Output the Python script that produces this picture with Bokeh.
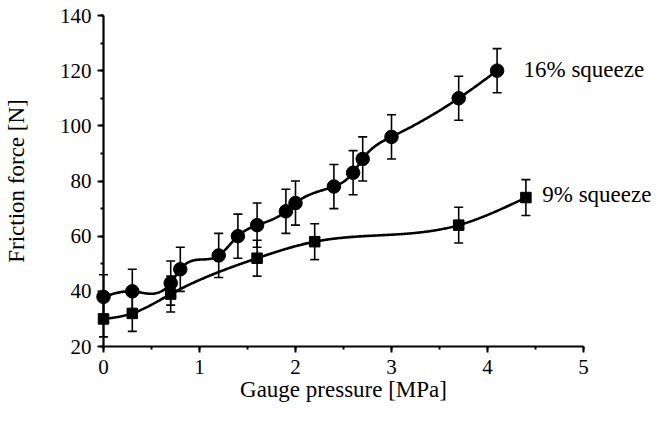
import numpy as np
from bokeh.plotting import figure
from bokeh.models import (ColumnDataSource, Whisker, TeeHead, Label,
                          SingleIntervalTicker, Range1d)
from bokeh.embed import file_html
from bokeh.resources import INLINE

# ---- data ----
p16_x = [0.0, 0.3, 0.7, 0.8, 1.2, 1.4, 1.6, 1.9, 2.0, 2.4, 2.6, 2.7, 3.0, 3.7, 4.1]
p16_y = [38, 40, 43, 48, 53, 60, 64, 69, 72, 78, 83, 88, 96, 110, 120]
p16_err = [8, 8, 8, 8, 8, 8, 8, 8, 8, 8, 8, 8, 8, 8, 8]

p9_x = [0.0, 0.3, 0.7, 1.6, 2.2, 3.7, 4.4]
p9_y = [30, 32, 39, 52, 58, 64, 74]
p9_err = [6.5, 6.5, 6.5, 6.5, 6.5, 6.5, 6.5]

label16 = "16% squeeze"
label9 = "9% squeeze"
x_title = "Gauge pressure [MPa]"
y_title = "Friction force [N]"

FONT = "Liberation Serif"

W, H = 657, 441
# frame placement of the axes box (pixels)
AX_L, AX_R, AX_T, AX_B = 103, 583, 15, 346
X0, X1, Y0, Y1 = 0, 5, 20, 140
sx = (AX_R - AX_L) / (X1 - X0)
sy = (AX_B - AX_T) / (Y1 - Y0)
xr = Range1d(X0 - AX_L / sx, X1 + (W - AX_R) / sx)
yr = Range1d(Y0 - (H - AX_B) / sy, Y1 + AX_T / sy)


def natural_spline(x, y, n=400):
    x = np.asarray(x, float)
    y = np.asarray(y, float)
    m = len(x)
    h = np.diff(x)
    A = np.zeros((m, m))
    r = np.zeros(m)
    A[0, 0] = 1.0
    A[-1, -1] = 1.0
    for i in range(1, m - 1):
        A[i, i - 1] = h[i - 1]
        A[i, i] = 2 * (h[i - 1] + h[i])
        A[i, i + 1] = h[i]
        r[i] = 3 * ((y[i + 1] - y[i]) / h[i] - (y[i] - y[i - 1]) / h[i - 1])
    c = np.linalg.solve(A, r)
    b = (y[1:] - y[:-1]) / h - h * (2 * c[:-1] + c[1:]) / 3
    d = (c[1:] - c[:-1]) / (3 * h)
    xs = np.linspace(x[0], x[-1], n)
    idx = np.clip(np.searchsorted(x, xs, side="right") - 1, 0, m - 2)
    dx = xs - x[idx]
    ys = y[idx] + b[idx] * dx + c[idx] * dx ** 2 + d[idx] * dx ** 3
    return xs, ys


p = figure(width=W, height=H, output_backend="svg", toolbar_location=None,
           x_range=xr, y_range=yr,
           min_border_left=0, min_border_right=0, min_border_top=0,
           min_border_bottom=0)
p.outline_line_color = None
p.xgrid.visible = False
p.ygrid.visible = False
p.background_fill_color = "white"
p.border_fill_color = "white"

p.xaxis.ticker = SingleIntervalTicker(interval=1, num_minor_ticks=2)
p.yaxis.ticker = SingleIntervalTicker(interval=20, num_minor_ticks=2)
p.xaxis.fixed_location = Y0
p.yaxis.fixed_location = X0
p.xaxis.bounds = (X0, X1)
p.yaxis.bounds = (Y0, Y1)
for ax in (p.xaxis, p.yaxis):
    ax.axis_line_width = 2.2
    ax.axis_line_color = "black"
    ax.major_tick_line_width = 2
    ax.minor_tick_line_width = 2
    ax.major_tick_line_color = "black"
    ax.minor_tick_line_color = "black"
    ax.major_tick_in = 0
    ax.major_tick_out = 6
    ax.minor_tick_in = 0
    ax.minor_tick_out = 3
    ax.major_label_text_font = FONT
    ax.major_label_text_font_size = "21px"
    ax.major_label_text_color = "black"
    ax.axis_label_text_font = FONT
    ax.axis_label_text_font_size = "23px"
    ax.axis_label_text_font_style = "normal"
    ax.axis_label_text_color = "black"

p.xaxis.axis_label = x_title
p.yaxis.axis_label = y_title
p.xaxis.major_label_standoff = 7
p.xaxis.axis_label_standoff = 0
p.yaxis.major_label_standoff = 6
p.yaxis.axis_label_standoff = 28

# curves
for xs_, ys_ in ((p16_x, p16_y), (p9_x, p9_y)):
    cx, cy = natural_spline(xs_, ys_)
    p.line(cx, cy, line_color="black", line_width=2.6)

# error bars
for xs_, ys_, es_ in ((p16_x, p16_y, p16_err), (p9_x, p9_y, p9_err)):
    src = ColumnDataSource(dict(
        x=xs_,
        upper=[v + e for v, e in zip(ys_, es_)],
        lower=[v - e for v, e in zip(ys_, es_)]))
    w = Whisker(base="x", upper="upper", lower="lower", source=src,
                line_color="black", line_width=1.6,
                upper_head=TeeHead(size=9, line_width=1.6, line_color="black"),
                lower_head=TeeHead(size=9, line_width=1.6, line_color="black"))
    p.add_layout(w)

p.scatter(p16_x, p16_y, marker="circle", size=13.5, fill_color="black",
          line_color="black")
p.scatter(p9_x, p9_y, marker="square", size=10.5, fill_color="black",
          line_color="black")

p.add_layout(Label(x=4.375, y=120.5, text=label16, text_font=FONT,
                   text_font_size="23px", text_baseline="middle",
                   text_color="black"))
p.add_layout(Label(x=4.57, y=75, text=label9, text_font=FONT,
                   text_font_size="23px", text_baseline="middle",
                   text_color="black"))

open("out.html", "w").write(file_html(p, INLINE))
